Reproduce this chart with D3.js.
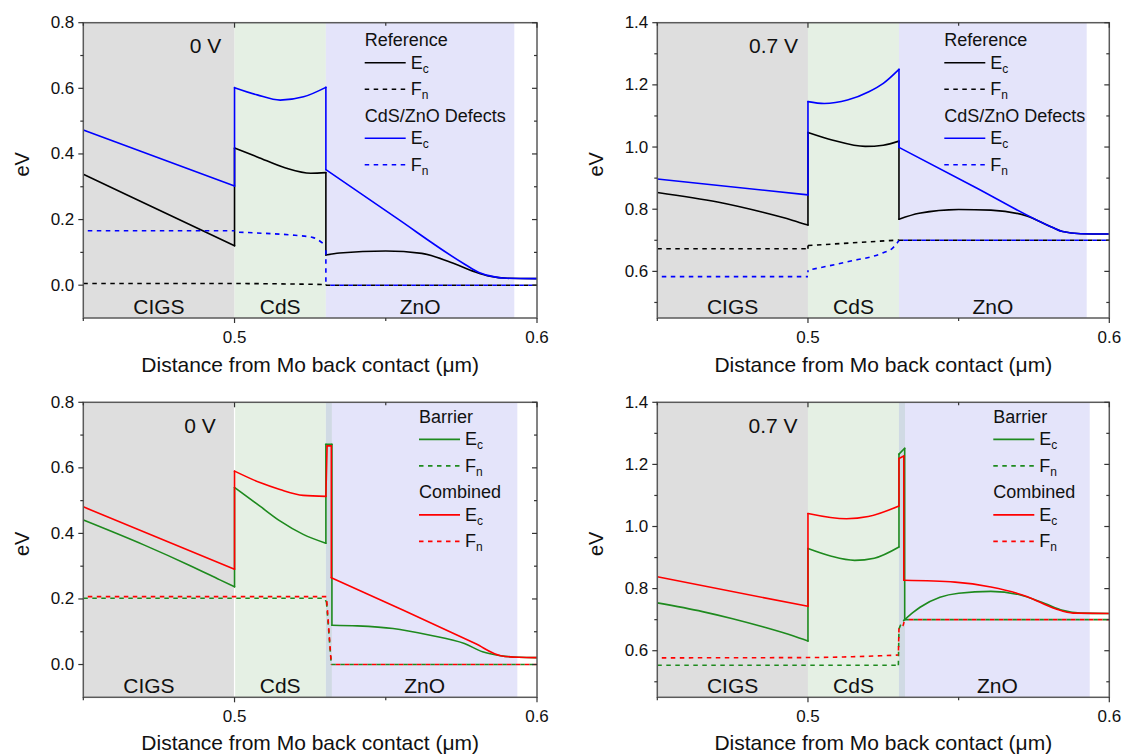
<!DOCTYPE html>
<html><head><meta charset="utf-8">
<script src="https://cdn.jsdelivr.net/npm/d3@7"></script>
<style>body{margin:0;background:#fff} svg{display:block;font-family:"Liberation Sans",Arial,Helvetica,sans-serif}</style>
</head><body><svg id="chart" width="1124" height="756"></svg>
<script>
// ---------------- DATA ----------------
// x in µm, energy in eV. Each series = list of segments; segments are joined by straight (vertical) steps.
const xTicksMajor = [0.5, 0.6];
const xTicksMinor = [0.45, 0.55];
const yTicks0V = [0.0, 0.2, 0.4, 0.6, 0.8];
const yMinor0V = [0.1, 0.3, 0.5, 0.7];
const yTicks07V = [0.6, 0.8, 1.0, 1.2, 1.4];
const yMinor07V = [0.5, 0.7, 0.9, 1.1, 1.3];
const regionNames = ["CIGS", "CdS", "ZnO"];
const voltages = ["0 V", "0.7 V"];
const legendTop = ["Reference", "CdS/ZnO Defects"];
const legendBottom = ["Barrier", "Combined"];

// region boundaries (µm): CIGS | CdS | (interface) | ZnO
const regionsTop = [[0.45, 0.5], [0.5, 0.5302], [0.5302, 0.5925]];
const regionsBottom = [[0.45, 0.5], [0.5, 0.5302], [0.5302, 0.5322], [0.5322, 0.5935]];

// Top-left: 0 V, Reference vs CdS/ZnO defects
const refEc0V = [
  [[0.45,0.338],[0.475,0.229],[0.5,0.120]],
  [[0.5,0.418],[0.5075,0.391],[0.5169,0.357],[0.5252,0.341],[0.5302,0.343]],
  [[0.5302,0.092],[0.5347,0.098],[0.55,0.104],[0.5619,0.097],[0.5714,0.070],[0.5796,0.040],[0.5844,0.027],[0.5903,0.021],[0.6,0.020]]
];
const refFn0V = [
  [[0.45,0.005],[0.5,0.005],[0.5302,0.002]],
  [[0.5302,0.0],[0.6,0.0]]
];
const defEc0V = [
  [[0.45,0.473],[0.5,0.302]],
  [[0.5,0.602],[0.5075,0.580],[0.5151,0.564],[0.5228,0.574],[0.5302,0.603]],
  [[0.5302,0.352],[0.553,0.208],[0.5761,0.064],[0.5808,0.039],[0.5856,0.026],[0.59,0.021],[0.6,0.020]]
];
const defFn0V = [
  [[0.45,0.166],[0.5,0.166]],
  [[0.5,0.162],[0.51,0.158],[0.52,0.152],[0.526,0.145],[0.5302,0.120]],
  [[0.5302,0.0],[0.6,0.0]]
];

// Top-right: 0.7 V
const refEc07V = [
  [[0.45,0.854],[0.47,0.823],[0.485,0.790],[0.495,0.764],[0.5,0.749]],
  [[0.5,1.047],[0.5083,1.022],[0.519,1.002],[0.525,1.006],[0.5302,1.019]],
  [[0.5302,0.768],[0.5369,0.787],[0.55,0.799],[0.5607,0.797],[0.5726,0.778],[0.581,0.742],[0.5845,0.728],[0.5905,0.721],[0.6,0.720]]
];
const refFn07V = [
  [[0.45,0.673],[0.5,0.673]],
  [[0.5,0.683],[0.5302,0.701]],
  [[0.5302,0.700],[0.6,0.700]]
];
const defEc07V = [
  [[0.45,0.897],[0.5,0.846]],
  [[0.5,1.146],[0.5054,1.140],[0.5131,1.151],[0.5202,1.178],[0.525,1.205],[0.5302,1.250]],
  [[0.5302,0.999],[0.555,0.873],[0.581,0.742],[0.5845,0.728],[0.5905,0.721],[0.6,0.720]]
];
const defFn07V = [
  [[0.45,0.583],[0.5,0.583]],
  [[0.5,0.604],[0.5131,0.631],[0.525,0.660],[0.528,0.674],[0.5302,0.699]],
  [[0.5302,0.700],[0.6,0.700]]
];

// Bottom-left: 0 V, Barrier vs Combined
const barEc0V = [
  [[0.45,0.441],[0.47,0.365],[0.485,0.303],[0.495,0.259],[0.5,0.237]],
  [[0.5,0.540],[0.5084,0.483],[0.515,0.438],[0.5227,0.397],[0.5302,0.370]],
  [[0.5302,0.672],[0.5322,0.672]],
  [[0.5322,0.120],[0.5406,0.118],[0.5524,0.110],[0.5643,0.090],[0.576,0.064],[0.582,0.039],[0.588,0.027],[0.594,0.022],[0.6,0.021]]
];
const barFn0V = [
  [[0.45,0.202],[0.5295,0.202],[0.5304,0.190]],
  [[0.532,0.0],[0.6,0.0]]
];
const comEc0V = [
  [[0.45,0.481],[0.5,0.291]],
  [[0.5,0.590],[0.5084,0.555],[0.515,0.534],[0.5227,0.516],[0.5302,0.513]],
  [[0.5306,0.667],[0.5320,0.667]],
  [[0.5320,0.265],[0.556,0.165],[0.5796,0.064],[0.588,0.027],[0.594,0.022],[0.6,0.021]]
];
const comFn0V = [
  [[0.45,0.207],[0.5304,0.207]],
  [[0.532,0.0],[0.6,0.0]]
];

// Bottom-right: 0.7 V
const barEc07V = [
  [[0.45,0.754],[0.465,0.726],[0.475,0.703],[0.485,0.677],[0.495,0.648],[0.5,0.631]],
  [[0.5,0.929],[0.5075,0.905],[0.5155,0.891],[0.522,0.898],[0.5302,0.934]],
  [[0.5302,1.233],[0.5321,1.252]],
  [[0.5321,0.700],[0.535,0.724],[0.5372,0.740],[0.5438,0.772],[0.55,0.785],[0.5607,0.791],[0.5702,0.780],[0.5786,0.752],[0.5845,0.730],[0.5905,0.721],[0.6,0.720]]
];
const barFn07V = [
  [[0.45,0.553],[0.5300,0.553]],
  [[0.5302,0.670],[0.5310,0.688],[0.532,0.699]],
  [[0.532,0.700],[0.6,0.700]]
];
const comEc07V = [
  [[0.45,0.838],[0.5,0.743]],
  [[0.5,1.042],[0.5128,1.025],[0.52,1.032],[0.5302,1.066]],
  [[0.5302,1.219],[0.5318,1.227]],
  [[0.5318,0.827],[0.5488,0.821],[0.5607,0.805],[0.5726,0.775],[0.5821,0.735],[0.588,0.721],[0.6,0.720]]
];
const comFn07V = [
  [[0.45,0.577],[0.5,0.578],[0.5300,0.586]],
  [[0.5302,0.672],[0.5315,0.680],[0.532,0.699]],
  [[0.532,0.700],[0.6,0.700]]
];

// ---------------- LAYOUT / STYLE ----------------
const C = {black:"#000000", blue:"#0000ff", green:"#1e8a1e", red:"#ff0000"};
const regionFill = ["#dedede", "#e5f0e4", "#d0dae4", "#e4e4fa"];
const axisColor = "#5a5a5a";
const DASH = "4.5,4.5";

const panels = [
  {x0:83.3, x1:537, y0:22.7, y1:318, yDom:[-0.1,0.8], yT:yTicks0V, yM:yMinor0V, volt:voltages[0], vx:205.5,
   regions:regionsTop, interface:false, legendX:364.7, legendY:40.2, groups:legendTop, cols:[C.black,C.blue],
   series:[[refFn0V,C.black,true,0],[refEc0V,C.black,false,0],[defEc0V,C.blue,false,0],[defFn0V,C.blue,true,4.5]]},
  {x0:657.3, x1:1109.3, y0:22.7, y1:318, yDom:[0.45,1.4], yT:yTicks07V, yM:yMinor07V, volt:voltages[1], vx:773.5,
   regions:regionsTop, interface:false, legendX:944.3, legendY:40.2, groups:legendTop, cols:[C.black,C.blue],
   series:[[refFn07V,C.black,true,0],[refEc07V,C.black,false,0],[defEc07V,C.blue,false,0],[defFn07V,C.blue,true,4.5]]},
  {x0:83.3, x1:537, y0:402.3, y1:697.3, yDom:[-0.1,0.8], yT:yTicks0V, yM:yMinor0V, volt:voltages[0], vx:200,
   regions:regionsBottom, interface:true, legendX:419, legendY:416.9, groups:legendBottom, cols:[C.green,C.red],
   series:[[barFn0V,C.green,true,0],[comFn0V,C.red,true,4.5],[barEc0V,C.green,false,0],[comEc0V,C.red,false,0]]},
  {x0:657.3, x1:1109.3, y0:402.3, y1:697.3, yDom:[0.45,1.4], yT:yTicks07V, yM:yMinor07V, volt:voltages[1], vx:773,
   regions:regionsBottom, interface:true, legendX:993.3, legendY:416.9, groups:legendBottom, cols:[C.green,C.red],
   series:[[barFn07V,C.green,true,0],[comFn07V,C.red,true,4.5],[barEc07V,C.green,false,0],[comEc07V,C.red,false,0]]}
];

const svg = d3.select("#chart");
const fmt = d3.format(".1f");

panels.forEach((p, pi) => {
  const x = d3.scaleLinear().domain([0.45, 0.6]).range([p.x0, p.x1]);
  const y = d3.scaleLinear().domain(p.yDom).range([p.y1, p.y0]);
  const g = svg.append("g");
  const clipId = "clip" + pi;
  g.append("clipPath").attr("id", clipId).append("rect")
    .attr("x", p.x0).attr("y", p.y0).attr("width", p.x1 - p.x0).attr("height", p.y1 - p.y0);

  // regions
  const fills = p.interface ? regionFill : [regionFill[0], regionFill[1], regionFill[3]];
  p.regions.forEach((r, i) => {
    g.append("rect").attr("x", x(r[0])).attr("y", p.y0)
      .attr("width", x(r[1]) - x(r[0])).attr("height", p.y1 - p.y0).attr("fill", fills[i]);
  });
  if (pi === 2) {
    g.append("line").attr("x1", x(0.5)).attr("x2", x(0.5)).attr("y1", p.y0).attr("y2", p.y1)
      .attr("stroke", "#ffffff").attr("stroke-width", 1.2);
  }

  // region labels
  const labRegions = p.interface ? [p.regions[0], p.regions[1], p.regions[3]] : p.regions;
  labRegions.forEach((r, i) => {
    g.append("text").attr("x", x((r[0] + r[1]) / 2) - (pi === 2 && i === 0 ? 10 : 0))
      .attr("y", p.y1 - 12).attr("text-anchor", "middle").attr("dominant-baseline", "central")
      .attr("font-size", 21).attr("fill", "#111").text(regionNames[i]);
  });

  // voltage label
  g.append("text").attr("x", p.vx).attr("y", p.y0 + 23).attr("text-anchor", "middle")
    .attr("dominant-baseline", "central").attr("font-size", 21).attr("fill", "#111").text(p.volt);

  // curves: each segment its own path, plus straight step connectors between segments
  const line = d3.line().x(d => x(d[0])).y(d => y(d[1])).curve(d3.curveMonotoneX);
  const step = d3.line().x(d => x(d[0])).y(d => y(d[1]));
  const cg = g.append("g").attr("clip-path", `url(#${clipId})`);
  p.series.forEach(([segs, col, dashed, off]) => {
    const sg = cg.append("g").attr("fill", "none").attr("stroke", col).attr("stroke-width", 1.6)
      .attr("stroke-linejoin", "round").attr("stroke-linecap", dashed ? "butt" : "round");
    segs.forEach((s, i) => {
      sg.append("path").attr("d", line(s))
        .attr("stroke-dasharray", dashed ? DASH : null).attr("stroke-dashoffset", off);
      if (i > 0) {
        const prev = segs[i - 1];
        sg.append("path").attr("d", step([prev[prev.length - 1], s[0]]))
          .attr("stroke-dasharray", dashed ? DASH : null).attr("stroke-dashoffset", off);
      }
    });
  });

  // frame
  g.append("rect").attr("x", p.x0).attr("y", p.y0).attr("width", p.x1 - p.x0).attr("height", p.y1 - p.y0)
    .attr("fill", "none").attr("stroke", axisColor).attr("stroke-width", 1.5);

  // y ticks (left outward, right inward)
  const tk = g.append("g").attr("stroke", "#333").attr("stroke-width", 1.2);
  p.yT.forEach(v => {
    tk.append("line").attr("x1", p.x0 - 5).attr("x2", p.x0).attr("y1", y(v)).attr("y2", y(v));
    tk.append("line").attr("x1", p.x1 - 5).attr("x2", p.x1).attr("y1", y(v)).attr("y2", y(v));
    g.append("text").attr("x", p.x0 - 9).attr("y", y(v)).attr("text-anchor", "end")
      .attr("dominant-baseline", "central").attr("font-size", 17).attr("fill", "#111").text(fmt(v));
  });
  p.yM.forEach(v => {
    tk.append("line").attr("x1", p.x0 - 3).attr("x2", p.x0).attr("y1", y(v)).attr("y2", y(v));
    tk.append("line").attr("x1", p.x1 - 3).attr("x2", p.x1).attr("y1", y(v)).attr("y2", y(v));
  });
  // x ticks (bottom outward, top inward)
  xTicksMajor.forEach(v => {
    tk.append("line").attr("x1", x(v)).attr("x2", x(v)).attr("y1", p.y1).attr("y2", p.y1 + 5);
    tk.append("line").attr("x1", x(v)).attr("x2", x(v)).attr("y1", p.y0).attr("y2", p.y0 + 5);
    g.append("text").attr("x", x(v)).attr("y", p.y1 + 19).attr("text-anchor", "middle")
      .attr("dominant-baseline", "central").attr("font-size", 17).attr("fill", "#111").text(fmt(v));
  });
  xTicksMinor.forEach(v => {
    tk.append("line").attr("x1", x(v)).attr("x2", x(v)).attr("y1", p.y1).attr("y2", p.y1 + 3);
    tk.append("line").attr("x1", x(v)).attr("x2", x(v)).attr("y1", p.y0).attr("y2", p.y0 + 3);
  });

  // axis titles
  g.append("text").attr("x", (p.x0 + p.x1) / 2).attr("y", p.y1 + (pi < 2 ? 46 : 45.5))
    .attr("text-anchor", "middle").attr("dominant-baseline", "central").attr("font-size", 21).attr("fill", "#111")
    .text("Distance from Mo back contact (\u03bcm)");
  const ey = (p.y0 + p.y1) / 2 - 6, ex = p.x0 - 61;
  g.append("text").attr("transform", `translate(${ex},${ey}) rotate(-90)`).attr("text-anchor", "middle")
    .attr("dominant-baseline", "central").attr("font-size", 20).attr("fill", "#111").text("eV");

  // legend
  const rowOff = [0, 22.5, 49, 75.5, 98, 124.5];
  const lg = g.append("g");
  p.groups.forEach((name, gi) => {
    const base = p.legendY + rowOff[gi * 3];
    lg.append("text").attr("x", p.legendX).attr("y", base).attr("dominant-baseline", "central")
      .attr("font-size", 18).attr("fill", "#111").text(name);
    [["E", "c", false], ["F", "n", true]].forEach(([main, sub, dashed], k) => {
      const yy = p.legendY + rowOff[gi * 3 + 1 + k];
      lg.append("line").attr("x1", p.legendX).attr("x2", p.legendX + 41).attr("y1", yy).attr("y2", yy)
        .attr("stroke", p.cols[gi]).attr("stroke-width", 1.6).attr("stroke-dasharray", dashed ? DASH : null);
      const t = lg.append("text").attr("x", p.legendX + 46).attr("y", yy).attr("dominant-baseline", "central")
        .attr("font-size", 18).attr("fill", "#111");
      t.append("tspan").text(main);
      t.append("tspan").attr("font-size", 12).attr("dy", 6).text(sub);
    });
  });
});
</script></body></html>
